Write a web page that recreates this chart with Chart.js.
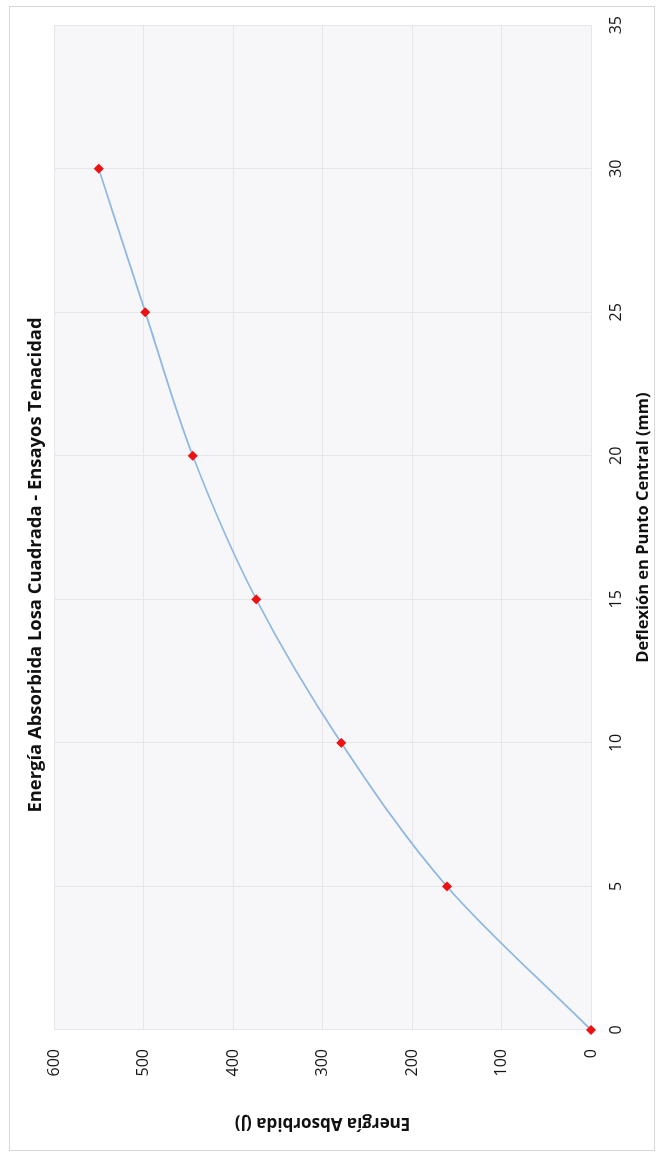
<!DOCTYPE html>
<html lang="es">
<head>
<meta charset="utf-8">
<title>Energía Absorbida Losa Cuadrada - Ensayos Tenacidad</title>
<script src="https://cdn.jsdelivr.net/npm/chart.js@4.4.1/dist/chart.umd.min.js"></script>
<style>
  html, body { margin: 0; padding: 0; background: #ffffff; overflow: hidden; }
  body { width: 658px; height: 1157px; position: relative; }
  /* the sheet is printed in landscape and turned a quarter turn */
  #sheet {
    position: absolute; left: 0; top: 0;
    width: 1157px; height: 658px;
    transform-origin: 0 0;
    transform: translateY(1157px) rotate(-90deg);
  }
  canvas { display: block; }
</style>
</head>
<body>
<div id="sheet"><canvas id="chart" width="1157" height="658"></canvas></div>
<script>
// Deflexión en el punto central (mm)
const deflexion = [0, 5, 10, 15, 20, 25, 30];
// Energía absorbida acumulada (J)
const energia = [0, 161, 279, 374, 445, 498, 550];

const chartTitle = 'Energía Absorbida Losa Cuadrada - Ensayos Tenacidad';
const xAxisTitle = 'Deflexión en Punto Central (mm)';
const yAxisTitle = 'Energía Absorbida (J)';

const FONT = "'Open Sans', 'DejaVu Sans', sans-serif";

// plot-area fill, outer frame and the heading
const sheetDecor = {
  id: 'sheetDecor',
  beforeDraw(chart) {
    const { ctx, chartArea: a } = chart;
    ctx.save();
    ctx.fillStyle = '#ffffff';
    ctx.fillRect(0, 0, chart.width, chart.height);
    ctx.fillStyle = '#f7f7f9';
    ctx.fillRect(a.left, a.top, a.right - a.left, a.bottom - a.top);
    ctx.restore();
  },
  afterDraw(chart) {
    const { ctx } = chart;
    ctx.save();
    ctx.strokeStyle = '#d6d6d6';
    ctx.lineWidth = 1;
    ctx.strokeRect(6.5, 9.5, chart.width - 13, chart.height - 13);
    ctx.fillStyle = '#111111';
    ctx.font = "bold 18.4px " + FONT;
    ctx.textAlign = 'center';
    ctx.textBaseline = 'middle';
    ctx.fillText(chartTitle, 592, 36);
    ctx.restore();
  }
};

new Chart(document.getElementById('chart'), {
  type: 'line',
  data: {
    datasets: [{
      data: deflexion.map((d, i) => ({ x: d, y: energia[i] })),
      borderColor: '#8fb9e2',
      borderWidth: 1.8,
      cubicInterpolationMode: 'monotone',
      pointStyle: 'rectRot',
      pointRadius: 5,
      pointBackgroundColor: '#ee1111',
      pointBorderColor: '#ee1111',
      pointBorderWidth: 0,
      clip: false,
      fill: false
    }]
  },
  options: {
    responsive: false,
    animation: false,
    devicePixelRatio: 1,
    layout: { padding: { top: 54, right: 25, left: 0, bottom: 0 } },
    plugins: {
      legend: { display: false },
      title: { display: false },
      tooltip: { enabled: false }
    },
    scales: {
      x: {
        type: 'linear',
        min: 0, max: 35,
        afterFit(scale) { scale.height = 67; },
        ticks: {
          stepSize: 5,
          padding: 16,
          color: '#151515',
          maxRotation: 0,
          font: { family: FONT, size: 16 }
        },
        grid: { color: '#e6e6ea', lineWidth: 1, drawTicks: false },
        border: { display: false },
        title: {
          display: true,
          text: xAxisTitle,
          color: '#111111',
          font: { family: FONT, size: 16.5, weight: 'bold' },
          padding: { top: 0, bottom: 5 }
        }
      },
      y: {
        type: 'linear',
        min: 0, max: 600,
        afterFit(scale) { scale.width = 127; },
        ticks: {
          stepSize: 100,
          padding: 19,
          color: '#151515',
          font: { family: FONT, size: 16 }
        },
        grid: { color: '#e6e6ea', lineWidth: 1, drawTicks: false },
        border: { display: false },
        title: {
          display: true,
          text: yAxisTitle,
          color: '#111111',
          font: { family: FONT, size: 17, weight: 'bold' },
          padding: { top: 24, bottom: 0 }
        }
      }
    }
  },
  plugins: [sheetDecor]
});
</script>
</body>
</html>
